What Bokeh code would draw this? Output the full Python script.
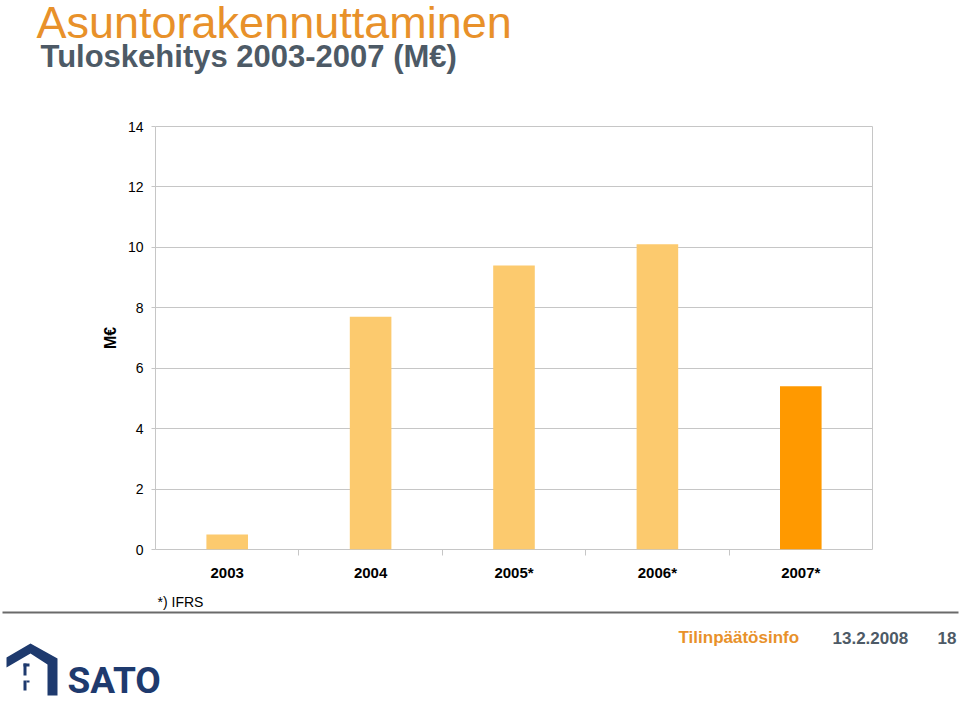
from bokeh.plotting import figure
from bokeh.models import (Range1d, FixedTicker, Label, ColumnDataSource)
from bokeh.embed import file_html
from bokeh.resources import INLINE

# ---- data ----
years = ["2003", "2004", "2005*", "2006*", "2007*"]
values = [0.5, 7.7, 9.4, 10.1, 5.4]
y_ticks = [0, 2, 4, 6, 8, 10, 12, 14]

title = "Asuntorakennuttaminen"
subtitle = "Tuloskehitys 2003-2007 (M€)"
note = "*) IFRS"
y_label = "M€"
footer_title = "Tilinpäätösinfo"
footer_date = "13.2.2008"
footer_page = "18"

FONT = "Liberation Sans"
LIGHT = "#FCCA6E"
ORANGE = "#FF9900"
TITLE_ORANGE = "#E8912A"
SLATE = "#4D5A66"
GRID = "#C6C6C6"
NAVY = "#1E3A6E"
W = 960


def blank(height, y_top, y_bottom):
    """A figure whose frame fills its canvas; data coords equal page pixels."""
    b = figure(width=W, height=height, x_range=Range1d(0, W),
               y_range=Range1d(y_bottom, y_top), x_axis_type=None, y_axis_type=None,
               output_backend="svg", toolbar_location=None, min_border=0,
               title_location=None)
    b.outline_line_color = None
    b.xgrid.grid_line_color = None
    b.ygrid.grid_line_color = None
    return b


# ---- header ----
h = blank(80, 0, 80)
h.add_layout(Label(x=36, y=22, text=title, text_font=FONT, text_font_size="45px",
                   text_color=TITLE_ORANGE, text_baseline="middle"))
h.add_layout(Label(x=40, y=56, text=subtitle, text_font=FONT, text_font_size="31px",
                   text_font_style="bold", text_color=SLATE, text_baseline="middle"))

# ---- chart ----
n = len(years)
centers = [i + 0.5 for i in range(n)]
bounds = [float(i) for i in range(1, n)]
colors = [LIGHT] * (n - 1) + [ORANGE]
src = ColumnDataSource(dict(x=centers, top=values, year=years, color=colors))

p = figure(width=W, height=510, x_range=Range1d(0, n), y_range=Range1d(0, 14),
           output_backend="svg", toolbar_location=None,
           min_border_left=155, min_border_right=88,
           min_border_top=46, min_border_bottom=41)

p.vbar(x="x", top="top", width=0.29, color="color", line_color=None, source=src)

xax = p.xaxis[0]
xax.ticker = FixedTicker(ticks=centers, minor_ticks=bounds)
xax.major_label_overrides = {c: y for c, y in zip(centers, years)}
xax.axis_line_color = None
xax.major_tick_line_color = None
xax.major_tick_out = 0
xax.major_tick_in = 0
xax.minor_tick_line_color = GRID
xax.minor_tick_out = 6
xax.minor_tick_in = 0
xax.major_label_standoff = 8
xax.major_label_text_font = FONT
xax.major_label_text_font_size = "15px"
xax.major_label_text_font_style = "bold"
xax.major_label_text_color = "black"

yax = p.yaxis[0]
yax.ticker = FixedTicker(ticks=y_ticks)
yax.axis_line_color = None
yax.major_tick_line_color = GRID
yax.major_tick_out = 4
yax.major_tick_in = 0
yax.minor_tick_line_color = None
yax.major_label_standoff = 8
yax.major_label_text_font = FONT
yax.major_label_text_font_size = "14px"
yax.major_label_text_color = "black"
yax.axis_label = y_label
yax.axis_label_text_font = FONT
yax.axis_label_text_font_size = "16px"
yax.axis_label_text_font_style = "bold"
yax.axis_label_text_color = "black"
yax.axis_label_standoff = 6

p.xgrid.grid_line_color = None
p.ygrid.ticker = FixedTicker(ticks=y_ticks)
p.ygrid.grid_line_color = GRID
p.outline_line_color = GRID
p.outline_line_width = 1

# ---- footer ----
f = blank(118, 590, 708)
f.add_layout(Label(x=157, y=601, text=note, text_font=FONT, text_font_size="14px",
                   text_color="black", text_baseline="middle"))
f.segment(x0=[2], y0=[612], x1=[958], y1=[612], line_color="#6A6A6A", line_width=2)

roof_x = [6, 30, 57, 57, 47, 47, 30, 6]
roof_y = [657, 643, 658, 695, 695, 664, 653, 667]
f.patch(roof_x, roof_y, color=NAVY, line_color=None)
f.quad(left=[23, 23, 23, 26], right=[29, 26, 26, 29], top=[663, 663, 680, 680],
       bottom=[666, 675, 690, 682], color=NAVY, line_color=None)
f.add_layout(Label(x=67, y=680, text="SATO", text_font="Roboto",
                   text_font_size="37px", text_font_style="bold", text_color=NAVY,
                   text_baseline="middle"))

f.add_layout(Label(x=678, y=637, text=footer_title, text_font=FONT,
                   text_font_size="17px", text_font_style="bold",
                   text_color=TITLE_ORANGE, text_baseline="middle"))
f.add_layout(Label(x=832, y=637, text=footer_date, text_font=FONT,
                   text_font_size="17px", text_font_style="bold",
                   text_color=SLATE, text_baseline="middle"))
f.add_layout(Label(x=937, y=637, text=footer_page, text_font=FONT,
                   text_font_size="17px", text_font_style="bold",
                   text_color=SLATE, text_baseline="middle"))

open("out.html", "w").write(file_html([h, p, f], INLINE))
